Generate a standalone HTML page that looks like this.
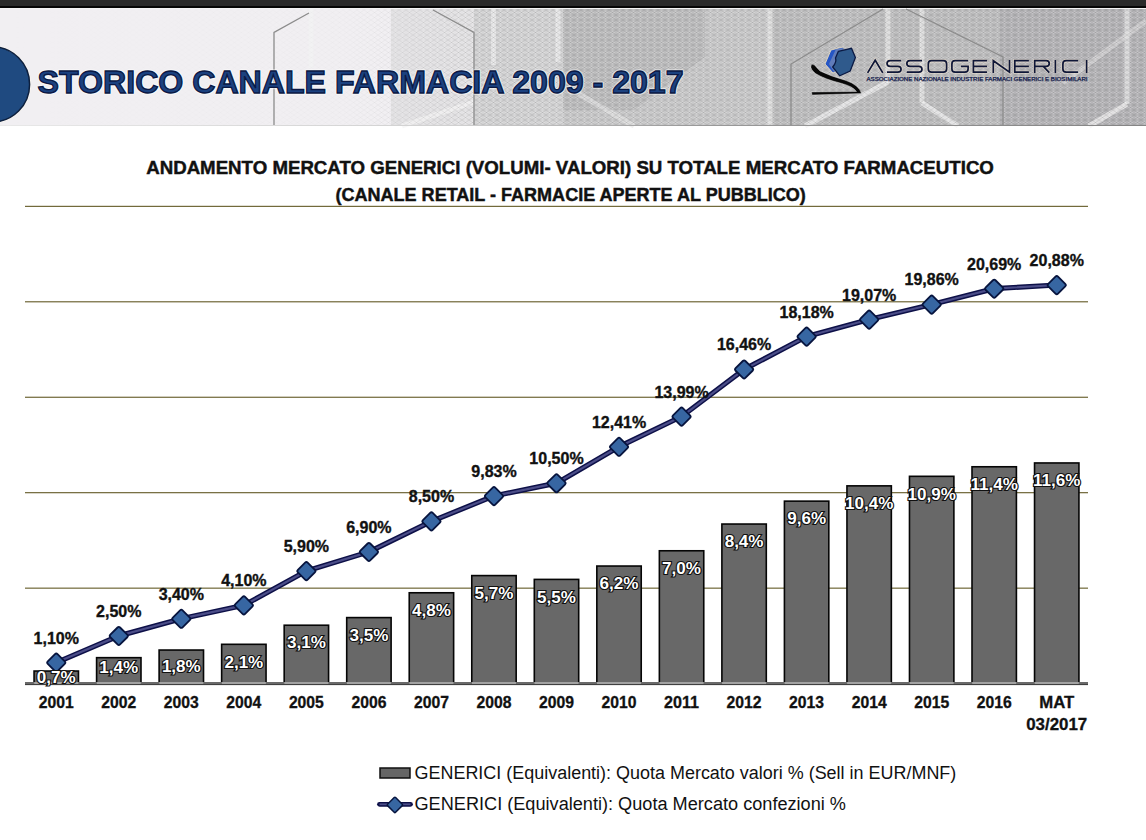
<!DOCTYPE html>
<html><head><meta charset="utf-8"><style>
html,body{margin:0;padding:0;background:#fff;width:1146px;height:840px;overflow:hidden}
svg{display:block}
text{font-family:"Liberation Sans",sans-serif}
</style></head><body>
<svg width="1146" height="840" viewBox="0 0 1146 840">
<defs>
<linearGradient id="hdr" x1="0" y1="0" x2="1" y2="0">
<stop offset="0" stop-color="#f2f0f2"/>
<stop offset="0.45" stop-color="#eeecee"/>
<stop offset="0.52" stop-color="#d6d6d6"/>
<stop offset="0.62" stop-color="#c4c4c4"/>
<stop offset="1" stop-color="#b6b6b6"/>
</linearGradient>
<linearGradient id="hb" x1="0" y1="0" x2="1" y2="0">
<stop offset="0" stop-color="#e8e8e8"/>
<stop offset="0.4" stop-color="#d0d0d0"/>
<stop offset="0.6" stop-color="#9a9a9a"/>
<stop offset="1" stop-color="#858585"/>
</linearGradient>
<pattern id="mesh" x="0" y="0" width="7" height="5" patternUnits="userSpaceOnUse">
<path d="M3.5,0.6 L6.4,2.5 L3.5,4.4 L0.6,2.5 Z" fill="#ffffff" fill-opacity="0.22"/>
<path d="M0,0 L3.5,2.5 L0,5 M7,0 L3.5,2.5 L7,5" fill="none" stroke="#000" stroke-opacity="0.10" stroke-width="0.9"/>
</pattern>
<linearGradient id="meshfade" x1="0" y1="0" x2="1" y2="0">
<stop offset="0" stop-color="#fff" stop-opacity="0"/>
<stop offset="0.3" stop-color="#fff" stop-opacity="0.15"/>
<stop offset="0.42" stop-color="#fff" stop-opacity="1"/>
<stop offset="1" stop-color="#fff" stop-opacity="1"/>
</linearGradient>
<mask id="mmask"><rect x="0" y="9" width="1146" height="117" fill="url(#meshfade)"/></mask>
<radialGradient id="circ" cx="0.5" cy="0.5" r="0.5">
<stop offset="0" stop-color="#234d85"/>
<stop offset="1" stop-color="#1d4478"/>
</radialGradient>
</defs>

<rect x="0" y="0" width="1146" height="6" fill="#2a2a2a"/>
<rect x="0" y="6" width="1146" height="2" fill="#060606"/>
<rect x="0" y="8" width="1146" height="1" fill="#f4f4f4"/>
<rect x="0" y="9" width="1146" height="117" fill="#f1eff2"/>
<rect x="391" y="9" width="84" height="117" fill="#e3e2e4"/>
<rect x="474" y="9" width="92" height="117" fill="#d3d3d4"/>
<rect x="563" y="9" width="210" height="117" fill="#c8c8c9"/>
<polygon points="563,9 705,9 705,57 634,110 563,110" fill="#bcbcbd"/>
<rect x="770" y="9" width="376" height="117" fill="#bdbdbe"/>
<rect x="1000" y="9" width="146" height="117" fill="#b4b3b6"/>
<rect x="308.5" y="9" width="5" height="59" fill="#f4f4f4" opacity="0.6"/>
<rect x="491.0" y="9" width="5" height="56" fill="#f4f4f4" opacity="0.6"/>
<rect x="555.5" y="9" width="5" height="53" fill="#f4f4f4" opacity="0.6"/>
<rect x="767.5" y="9" width="5" height="117" fill="#f4f4f4" opacity="0.6"/>
<rect x="885.5" y="9" width="5" height="74" fill="#f4f4f4" opacity="0.6"/>
<rect x="919.5" y="9" width="5" height="94" fill="#f4f4f4" opacity="0.6"/>
<rect x="1124.5" y="9" width="5" height="95" fill="#f4f4f4" opacity="0.6"/>
<polyline points="888,82 805,126" fill="none" stroke="#f4f4f4" stroke-width="5" opacity="0.7"/>
<polyline points="922,103 958,126" fill="none" stroke="#f4f4f4" stroke-width="5" opacity="0.7"/>
<polyline points="1127,104 1089,126" fill="none" stroke="#f4f4f4" stroke-width="5" opacity="0.7"/>
<polyline points="474,102 402,126" fill="none" stroke="#f4f4f4" stroke-width="5" opacity="0.7"/>
<polyline points="579,94 634,126" fill="none" stroke="#e8e8e8" stroke-width="5" opacity="0.6"/>
<polyline points="1063,83 1146,21" fill="none" stroke="#e4e4e4" stroke-width="5" opacity="0.5"/>
<rect x="0" y="9" width="1146" height="117" fill="url(#mesh)" mask="url(#mmask)"/>
<polyline points="309,13 274,32.5 274,126" fill="none" stroke="#8c8c8c" stroke-width="1.3"/>
<polyline points="433,10 474,32.5 474,126" fill="none" stroke="#8c8c8c" stroke-width="1.3"/>
<polyline points="883,9 791,64 791,126" fill="none" stroke="#8c8c8c" stroke-width="1.3"/>
<polyline points="906,9 1003,57 1003,126" fill="none" stroke="#8c8c8c" stroke-width="1.3"/>
<rect x="0" y="125" width="1146" height="1" fill="url(#hb)"/>
<circle cx="-8" cy="84.4" r="39.2" fill="#fbf6ee" opacity="0.8"/>
<circle cx="-8" cy="84.4" r="37.6" fill="#1f4a80" stroke="#0c1f3e" stroke-width="1.5"/>
<text x="37.6" y="92.6" font-size="32" font-weight="bold" fill="none" stroke="#ffffff" stroke-opacity="0.55" stroke-width="3.5" stroke-linejoin="round" textLength="646" lengthAdjust="spacingAndGlyphs">STORICO CANALE FARMACIA 2009 - 2017</text>
<text x="37.6" y="92.6" font-size="32" font-weight="bold" fill="#1b417f" stroke="#0a1844" stroke-width="1.3" textLength="646" lengthAdjust="spacingAndGlyphs">STORICO CANALE FARMACIA 2009 - 2017</text>
<path d="M867.6,72.9 L875.2,60.2 L882.8,72.9 M901.1,60.7 L890.2,60.7 Q887.0,60.7 887.0,63.9 L887.0,63.2 Q887.0,66.4 890.2,66.4 L897.9,66.4 Q901.1,66.4 901.1,69.6 L901.1,68.9 Q901.1,72.1 897.9,72.1 L887.0,72.1 M922.0,60.7 L910.0,60.7 Q906.8,60.7 906.8,63.9 L906.8,63.2 Q906.8,66.4 910.0,66.4 L918.8,66.4 Q922.0,66.4 922.0,69.6 L922.0,68.9 Q922.0,72.1 918.8,72.1 L906.8,72.1 M931.5,60.7 L943.4,60.7 Q946.6,60.7 946.6,63.9 L946.6,68.9 Q946.6,72.1 943.4,72.1 L931.5,72.1 Q928.3,72.1 928.3,68.9 L928.3,63.9 Q928.3,60.7 931.5,60.7 Z M968.1,60.7 L955.1,60.7 Q951.9,60.7 951.9,63.9 L951.9,68.9 Q951.9,72.1 955.1,72.1 L964.9,72.1 Q968.1,72.1 968.1,68.9 L968.1,66.4 L961.0,66.4 M987.0,60.7 L973.4,60.7 L973.4,72.1 L987.0,72.1 M973.4,66.4 L987.0,66.4 M993.3,72.9 L993.3,60.7 L1009.5,72.1 L1009.5,59.9 M1028.9,60.7 L1014.8,60.7 L1014.8,72.1 L1028.9,72.1 M1014.8,66.4 L1028.9,66.4 M1034.7,72.9 L1034.7,60.7 L1046.1,60.7 Q1049.3,60.7 1049.3,63.9 L1049.3,63.2 Q1049.3,66.4 1046.1,66.4 L1034.7,66.4 M1043.3,66.4 L1049.3,72.6 M1055.4,59.9 L1055.4,72.9 M1078.1,60.7 L1066.1,60.7 Q1062.9,60.7 1062.9,63.9 L1062.9,68.9 Q1062.9,72.1 1066.1,72.1 L1078.1,72.1 M1086.6,59.9 L1086.6,72.9" fill="none" stroke="#f3e4cf" stroke-opacity="0.55" stroke-width="3.4"/>
<path d="M867.6,72.9 L875.2,60.2 L882.8,72.9 M901.1,60.7 L890.2,60.7 Q887.0,60.7 887.0,63.9 L887.0,63.2 Q887.0,66.4 890.2,66.4 L897.9,66.4 Q901.1,66.4 901.1,69.6 L901.1,68.9 Q901.1,72.1 897.9,72.1 L887.0,72.1 M922.0,60.7 L910.0,60.7 Q906.8,60.7 906.8,63.9 L906.8,63.2 Q906.8,66.4 910.0,66.4 L918.8,66.4 Q922.0,66.4 922.0,69.6 L922.0,68.9 Q922.0,72.1 918.8,72.1 L906.8,72.1 M931.5,60.7 L943.4,60.7 Q946.6,60.7 946.6,63.9 L946.6,68.9 Q946.6,72.1 943.4,72.1 L931.5,72.1 Q928.3,72.1 928.3,68.9 L928.3,63.9 Q928.3,60.7 931.5,60.7 Z M968.1,60.7 L955.1,60.7 Q951.9,60.7 951.9,63.9 L951.9,68.9 Q951.9,72.1 955.1,72.1 L964.9,72.1 Q968.1,72.1 968.1,68.9 L968.1,66.4 L961.0,66.4 M987.0,60.7 L973.4,60.7 L973.4,72.1 L987.0,72.1 M973.4,66.4 L987.0,66.4 M993.3,72.9 L993.3,60.7 L1009.5,72.1 L1009.5,59.9 M1028.9,60.7 L1014.8,60.7 L1014.8,72.1 L1028.9,72.1 M1014.8,66.4 L1028.9,66.4 M1034.7,72.9 L1034.7,60.7 L1046.1,60.7 Q1049.3,60.7 1049.3,63.9 L1049.3,63.2 Q1049.3,66.4 1046.1,66.4 L1034.7,66.4 M1043.3,66.4 L1049.3,72.6 M1055.4,59.9 L1055.4,72.9 M1078.1,60.7 L1066.1,60.7 Q1062.9,60.7 1062.9,63.9 L1062.9,68.9 Q1062.9,72.1 1066.1,72.1 L1078.1,72.1 M1086.6,59.9 L1086.6,72.9" fill="none" stroke="#0f1738" stroke-width="1.7"/>
<text x="866.5" y="80.6" font-size="4.6" fill="#1a2550" stroke="#1a2550" stroke-width="0.25" textLength="221" lengthAdjust="spacingAndGlyphs">ASSOCIAZIONE NAZIONALE INDUSTRIE FARMACI GENERICI E BIOSIMILARI</text>
<polygon points="831,50 843,47 846,57 838,70 833,73 825,64" fill="#2656c4" stroke="#f2e2c0" stroke-width="1" stroke-opacity="0.8"/>
<polygon points="836,49 844,48 846,57 838,70 834,72 829,64" fill="#6f86b8" opacity="0.8"/>
<path d="M838.4,51.3 L851.5,48.3 L855.4,57.5 L850.2,71 L839.7,75.8 L832.7,67 Q837,62 835.5,58 Z" fill="#2f5a8c" stroke="#0b1a44" stroke-width="1.3"/>
<path d="M811,65.5 Q812,63.5 814.5,65 Q817,68 820,71 Q830,76 846,80.5 Q859,85 861.5,93.5 L812,95 L811.5,92 L856.5,91.5 Q853,86.5 842,83.5 Q824,79 815.5,73.5 Q810,69 811,65.5 Z" fill="#070707" stroke="#ffffff" stroke-opacity="0.45" stroke-width="0.8"/>
<text x="146.2" y="173.6" font-size="18.6" font-weight="bold" fill="#111" stroke="#111" stroke-width="0.45" textLength="847.7" lengthAdjust="spacingAndGlyphs">ANDAMENTO MERCATO GENERICI (VOLUMI- VALORI) SU TOTALE MERCATO FARMACEUTICO</text>
<text x="335.5" y="201.3" font-size="18.6" font-weight="bold" fill="#111" stroke="#111" stroke-width="0.45" textLength="470.3" lengthAdjust="spacingAndGlyphs">(CANALE RETAIL - FARMACIE APERTE AL PUBBLICO)</text>
<rect x="25" y="587.60" width="1063" height="1.1" fill="#635a26"/>
<rect x="25" y="492.15" width="1063" height="1.1" fill="#635a26"/>
<rect x="25" y="396.70" width="1063" height="1.1" fill="#635a26"/>
<rect x="25" y="301.25" width="1063" height="1.1" fill="#635a26"/>
<rect x="25" y="205.80" width="1063" height="1.1" fill="#635a26"/>
<rect x="34.06" y="671.04" width="44.40" height="11.76" fill="#686868" stroke="#050505" stroke-width="1.6"/>
<rect x="96.59" y="657.67" width="44.40" height="25.13" fill="#686868" stroke="#050505" stroke-width="1.6"/>
<rect x="159.12" y="650.04" width="44.40" height="32.76" fill="#686868" stroke="#050505" stroke-width="1.6"/>
<rect x="221.65" y="644.31" width="44.40" height="38.49" fill="#686868" stroke="#050505" stroke-width="1.6"/>
<rect x="284.18" y="625.22" width="44.40" height="57.58" fill="#686868" stroke="#050505" stroke-width="1.6"/>
<rect x="346.71" y="617.59" width="44.40" height="65.21" fill="#686868" stroke="#050505" stroke-width="1.6"/>
<rect x="409.24" y="592.77" width="44.40" height="90.03" fill="#686868" stroke="#050505" stroke-width="1.6"/>
<rect x="471.77" y="575.59" width="44.40" height="107.21" fill="#686868" stroke="#050505" stroke-width="1.6"/>
<rect x="534.30" y="579.40" width="44.40" height="103.40" fill="#686868" stroke="#050505" stroke-width="1.6"/>
<rect x="596.83" y="566.04" width="44.40" height="116.76" fill="#686868" stroke="#050505" stroke-width="1.6"/>
<rect x="659.36" y="550.77" width="44.40" height="132.03" fill="#686868" stroke="#050505" stroke-width="1.6"/>
<rect x="721.89" y="524.04" width="44.40" height="158.76" fill="#686868" stroke="#050505" stroke-width="1.6"/>
<rect x="784.42" y="501.14" width="44.40" height="181.66" fill="#686868" stroke="#050505" stroke-width="1.6"/>
<rect x="846.95" y="485.86" width="44.40" height="196.94" fill="#686868" stroke="#050505" stroke-width="1.6"/>
<rect x="909.48" y="476.32" width="44.40" height="206.48" fill="#686868" stroke="#050505" stroke-width="1.6"/>
<rect x="972.01" y="466.77" width="44.40" height="216.03" fill="#686868" stroke="#050505" stroke-width="1.6"/>
<rect x="1034.54" y="462.96" width="44.40" height="219.84" fill="#686868" stroke="#050505" stroke-width="1.6"/>
<rect x="25" y="682" width="1063" height="3" fill="#6a6a6a"/>
<rect x="34.26" y="682" width="44.00" height="2" fill="#a2a2a2"/>
<rect x="96.79" y="682" width="44.00" height="2" fill="#a2a2a2"/>
<rect x="159.32" y="682" width="44.00" height="2" fill="#a2a2a2"/>
<rect x="221.85" y="682" width="44.00" height="2" fill="#a2a2a2"/>
<rect x="284.38" y="682" width="44.00" height="2" fill="#a2a2a2"/>
<rect x="346.91" y="682" width="44.00" height="2" fill="#a2a2a2"/>
<rect x="409.44" y="682" width="44.00" height="2" fill="#a2a2a2"/>
<rect x="471.97" y="682" width="44.00" height="2" fill="#a2a2a2"/>
<rect x="534.50" y="682" width="44.00" height="2" fill="#a2a2a2"/>
<rect x="597.03" y="682" width="44.00" height="2" fill="#a2a2a2"/>
<rect x="659.56" y="682" width="44.00" height="2" fill="#a2a2a2"/>
<rect x="722.09" y="682" width="44.00" height="2" fill="#a2a2a2"/>
<rect x="784.62" y="682" width="44.00" height="2" fill="#a2a2a2"/>
<rect x="847.15" y="682" width="44.00" height="2" fill="#a2a2a2"/>
<rect x="909.68" y="682" width="44.00" height="2" fill="#a2a2a2"/>
<rect x="972.21" y="682" width="44.00" height="2" fill="#a2a2a2"/>
<rect x="1034.74" y="682" width="44.00" height="2" fill="#a2a2a2"/>
<rect x="25" y="684.1" width="1063" height="1" fill="#3c3c3c"/>
<polyline points="56.26,662.60 118.79,635.88 181.32,618.69 243.85,605.33 306.38,570.97 368.91,551.88 431.44,521.34 493.97,495.95 556.50,483.16 619.03,446.69 681.56,416.53 744.09,369.38 806.62,336.54 869.15,319.55 931.68,304.47 994.21,288.63 1056.74,285.00" fill="none" stroke="#0d1048" stroke-width="5.2" stroke-linejoin="round"/>
<polyline points="56.26,662.60 118.79,635.88 181.32,618.69 243.85,605.33 306.38,570.97 368.91,551.88 431.44,521.34 493.97,495.95 556.50,483.16 619.03,446.69 681.56,416.53 744.09,369.38 806.62,336.54 869.15,319.55 931.68,304.47 994.21,288.63 1056.74,285.00" fill="none" stroke="#4b4d88" stroke-width="2.2" stroke-linejoin="round"/>
<rect x="49.36" y="655.80" width="13.8" height="13.8" rx="1.8" fill="#3766a2" stroke="#07143e" stroke-width="1.8" transform="rotate(45 56.26 662.70)"/>
<rect x="111.89" y="629.08" width="13.8" height="13.8" rx="1.8" fill="#3766a2" stroke="#07143e" stroke-width="1.8" transform="rotate(45 118.79 635.98)"/>
<rect x="174.42" y="611.89" width="13.8" height="13.8" rx="1.8" fill="#3766a2" stroke="#07143e" stroke-width="1.8" transform="rotate(45 181.32 618.79)"/>
<rect x="236.95" y="598.53" width="13.8" height="13.8" rx="1.8" fill="#3766a2" stroke="#07143e" stroke-width="1.8" transform="rotate(45 243.85 605.43)"/>
<rect x="299.48" y="564.17" width="13.8" height="13.8" rx="1.8" fill="#3766a2" stroke="#07143e" stroke-width="1.8" transform="rotate(45 306.38 571.07)"/>
<rect x="362.01" y="545.08" width="13.8" height="13.8" rx="1.8" fill="#3766a2" stroke="#07143e" stroke-width="1.8" transform="rotate(45 368.91 551.98)"/>
<rect x="424.54" y="514.54" width="13.8" height="13.8" rx="1.8" fill="#3766a2" stroke="#07143e" stroke-width="1.8" transform="rotate(45 431.44 521.44)"/>
<rect x="487.07" y="489.15" width="13.8" height="13.8" rx="1.8" fill="#3766a2" stroke="#07143e" stroke-width="1.8" transform="rotate(45 493.97 496.05)"/>
<rect x="549.60" y="476.36" width="13.8" height="13.8" rx="1.8" fill="#3766a2" stroke="#07143e" stroke-width="1.8" transform="rotate(45 556.50 483.26)"/>
<rect x="612.13" y="439.89" width="13.8" height="13.8" rx="1.8" fill="#3766a2" stroke="#07143e" stroke-width="1.8" transform="rotate(45 619.03 446.79)"/>
<rect x="674.66" y="409.73" width="13.8" height="13.8" rx="1.8" fill="#3766a2" stroke="#07143e" stroke-width="1.8" transform="rotate(45 681.56 416.63)"/>
<rect x="737.19" y="362.58" width="13.8" height="13.8" rx="1.8" fill="#3766a2" stroke="#07143e" stroke-width="1.8" transform="rotate(45 744.09 369.48)"/>
<rect x="799.72" y="329.74" width="13.8" height="13.8" rx="1.8" fill="#3766a2" stroke="#07143e" stroke-width="1.8" transform="rotate(45 806.62 336.64)"/>
<rect x="862.25" y="312.75" width="13.8" height="13.8" rx="1.8" fill="#3766a2" stroke="#07143e" stroke-width="1.8" transform="rotate(45 869.15 319.65)"/>
<rect x="924.78" y="297.67" width="13.8" height="13.8" rx="1.8" fill="#3766a2" stroke="#07143e" stroke-width="1.8" transform="rotate(45 931.68 304.57)"/>
<rect x="987.31" y="281.83" width="13.8" height="13.8" rx="1.8" fill="#3766a2" stroke="#07143e" stroke-width="1.8" transform="rotate(45 994.21 288.73)"/>
<rect x="1049.84" y="278.20" width="13.8" height="13.8" rx="1.8" fill="#3766a2" stroke="#07143e" stroke-width="1.8" transform="rotate(45 1056.74 285.10)"/>
<text x="56.26" y="643.60" font-size="16" font-weight="bold" fill="#111" stroke="#111" stroke-width="0.35" text-anchor="middle">1,10%</text>
<text x="118.79" y="616.88" font-size="16" font-weight="bold" fill="#111" stroke="#111" stroke-width="0.35" text-anchor="middle">2,50%</text>
<text x="181.32" y="599.69" font-size="16" font-weight="bold" fill="#111" stroke="#111" stroke-width="0.35" text-anchor="middle">3,40%</text>
<text x="243.85" y="586.33" font-size="16" font-weight="bold" fill="#111" stroke="#111" stroke-width="0.35" text-anchor="middle">4,10%</text>
<text x="306.38" y="551.97" font-size="16" font-weight="bold" fill="#111" stroke="#111" stroke-width="0.35" text-anchor="middle">5,90%</text>
<text x="368.91" y="532.88" font-size="16" font-weight="bold" fill="#111" stroke="#111" stroke-width="0.35" text-anchor="middle">6,90%</text>
<text x="431.44" y="502.34" font-size="16" font-weight="bold" fill="#111" stroke="#111" stroke-width="0.35" text-anchor="middle">8,50%</text>
<text x="493.97" y="476.95" font-size="16" font-weight="bold" fill="#111" stroke="#111" stroke-width="0.35" text-anchor="middle">9,83%</text>
<text x="556.50" y="464.16" font-size="16" font-weight="bold" fill="#111" stroke="#111" stroke-width="0.35" text-anchor="middle">10,50%</text>
<text x="619.03" y="427.69" font-size="16" font-weight="bold" fill="#111" stroke="#111" stroke-width="0.35" text-anchor="middle">12,41%</text>
<text x="681.56" y="397.53" font-size="16" font-weight="bold" fill="#111" stroke="#111" stroke-width="0.35" text-anchor="middle">13,99%</text>
<text x="744.09" y="350.38" font-size="16" font-weight="bold" fill="#111" stroke="#111" stroke-width="0.35" text-anchor="middle">16,46%</text>
<text x="806.62" y="317.54" font-size="16" font-weight="bold" fill="#111" stroke="#111" stroke-width="0.35" text-anchor="middle">18,18%</text>
<text x="869.15" y="300.55" font-size="16" font-weight="bold" fill="#111" stroke="#111" stroke-width="0.35" text-anchor="middle">19,07%</text>
<text x="931.68" y="285.47" font-size="16" font-weight="bold" fill="#111" stroke="#111" stroke-width="0.35" text-anchor="middle">19,86%</text>
<text x="994.21" y="269.63" font-size="16" font-weight="bold" fill="#111" stroke="#111" stroke-width="0.35" text-anchor="middle">20,69%</text>
<text x="1056.74" y="266.00" font-size="16" font-weight="bold" fill="#111" stroke="#111" stroke-width="0.35" text-anchor="middle">20,88%</text>
<text x="56.26" y="683.00" font-size="16" font-weight="bold" fill="#fff" stroke="#111" stroke-width="2.2" paint-order="stroke" text-anchor="middle" textLength="38.84" lengthAdjust="spacingAndGlyphs">0,7%</text>
<text x="118.79" y="672.50" font-size="16" font-weight="bold" fill="#fff" stroke="#111" stroke-width="2.2" paint-order="stroke" text-anchor="middle" textLength="38.84" lengthAdjust="spacingAndGlyphs">1,4%</text>
<text x="181.32" y="672.00" font-size="16" font-weight="bold" fill="#fff" stroke="#111" stroke-width="2.2" paint-order="stroke" text-anchor="middle" textLength="38.84" lengthAdjust="spacingAndGlyphs">1,8%</text>
<text x="243.85" y="667.51" font-size="16" font-weight="bold" fill="#fff" stroke="#111" stroke-width="2.2" paint-order="stroke" text-anchor="middle" textLength="38.84" lengthAdjust="spacingAndGlyphs">2,1%</text>
<text x="306.38" y="648.42" font-size="16" font-weight="bold" fill="#fff" stroke="#111" stroke-width="2.2" paint-order="stroke" text-anchor="middle" textLength="38.84" lengthAdjust="spacingAndGlyphs">3,1%</text>
<text x="368.91" y="640.79" font-size="16" font-weight="bold" fill="#fff" stroke="#111" stroke-width="2.2" paint-order="stroke" text-anchor="middle" textLength="38.84" lengthAdjust="spacingAndGlyphs">3,5%</text>
<text x="431.44" y="615.97" font-size="16" font-weight="bold" fill="#fff" stroke="#111" stroke-width="2.2" paint-order="stroke" text-anchor="middle" textLength="38.84" lengthAdjust="spacingAndGlyphs">4,8%</text>
<text x="493.97" y="598.79" font-size="16" font-weight="bold" fill="#fff" stroke="#111" stroke-width="2.2" paint-order="stroke" text-anchor="middle" textLength="38.84" lengthAdjust="spacingAndGlyphs">5,7%</text>
<text x="556.50" y="602.61" font-size="16" font-weight="bold" fill="#fff" stroke="#111" stroke-width="2.2" paint-order="stroke" text-anchor="middle" textLength="38.84" lengthAdjust="spacingAndGlyphs">5,5%</text>
<text x="619.03" y="589.24" font-size="16" font-weight="bold" fill="#fff" stroke="#111" stroke-width="2.2" paint-order="stroke" text-anchor="middle" textLength="38.84" lengthAdjust="spacingAndGlyphs">6,2%</text>
<text x="681.56" y="573.97" font-size="16" font-weight="bold" fill="#fff" stroke="#111" stroke-width="2.2" paint-order="stroke" text-anchor="middle" textLength="38.84" lengthAdjust="spacingAndGlyphs">7,0%</text>
<text x="744.09" y="547.24" font-size="16" font-weight="bold" fill="#fff" stroke="#111" stroke-width="2.2" paint-order="stroke" text-anchor="middle" textLength="38.84" lengthAdjust="spacingAndGlyphs">8,4%</text>
<text x="806.62" y="524.34" font-size="16" font-weight="bold" fill="#fff" stroke="#111" stroke-width="2.2" paint-order="stroke" text-anchor="middle" textLength="38.84" lengthAdjust="spacingAndGlyphs">9,6%</text>
<text x="869.15" y="509.06" font-size="16" font-weight="bold" fill="#fff" stroke="#111" stroke-width="2.2" paint-order="stroke" text-anchor="middle" textLength="48.32" lengthAdjust="spacingAndGlyphs">10,4%</text>
<text x="931.68" y="499.52" font-size="16" font-weight="bold" fill="#fff" stroke="#111" stroke-width="2.2" paint-order="stroke" text-anchor="middle" textLength="48.32" lengthAdjust="spacingAndGlyphs">10,9%</text>
<text x="994.21" y="489.97" font-size="16" font-weight="bold" fill="#fff" stroke="#111" stroke-width="2.2" paint-order="stroke" text-anchor="middle" textLength="47.38" lengthAdjust="spacingAndGlyphs">11,4%</text>
<text x="1056.74" y="486.16" font-size="16" font-weight="bold" fill="#fff" stroke="#111" stroke-width="2.2" paint-order="stroke" text-anchor="middle" textLength="47.38" lengthAdjust="spacingAndGlyphs">11,6%</text>
<text x="56.26" y="707.8" font-size="15.8" font-weight="bold" fill="#111" stroke="#111" stroke-width="0.3" textLength="35" lengthAdjust="spacingAndGlyphs" text-anchor="middle">2001</text>
<text x="118.79" y="707.8" font-size="15.8" font-weight="bold" fill="#111" stroke="#111" stroke-width="0.3" textLength="35" lengthAdjust="spacingAndGlyphs" text-anchor="middle">2002</text>
<text x="181.32" y="707.8" font-size="15.8" font-weight="bold" fill="#111" stroke="#111" stroke-width="0.3" textLength="35" lengthAdjust="spacingAndGlyphs" text-anchor="middle">2003</text>
<text x="243.85" y="707.8" font-size="15.8" font-weight="bold" fill="#111" stroke="#111" stroke-width="0.3" textLength="35" lengthAdjust="spacingAndGlyphs" text-anchor="middle">2004</text>
<text x="306.38" y="707.8" font-size="15.8" font-weight="bold" fill="#111" stroke="#111" stroke-width="0.3" textLength="35" lengthAdjust="spacingAndGlyphs" text-anchor="middle">2005</text>
<text x="368.91" y="707.8" font-size="15.8" font-weight="bold" fill="#111" stroke="#111" stroke-width="0.3" textLength="35" lengthAdjust="spacingAndGlyphs" text-anchor="middle">2006</text>
<text x="431.44" y="707.8" font-size="15.8" font-weight="bold" fill="#111" stroke="#111" stroke-width="0.3" textLength="35" lengthAdjust="spacingAndGlyphs" text-anchor="middle">2007</text>
<text x="493.97" y="707.8" font-size="15.8" font-weight="bold" fill="#111" stroke="#111" stroke-width="0.3" textLength="35" lengthAdjust="spacingAndGlyphs" text-anchor="middle">2008</text>
<text x="556.50" y="707.8" font-size="15.8" font-weight="bold" fill="#111" stroke="#111" stroke-width="0.3" textLength="35" lengthAdjust="spacingAndGlyphs" text-anchor="middle">2009</text>
<text x="619.03" y="707.8" font-size="15.8" font-weight="bold" fill="#111" stroke="#111" stroke-width="0.3" textLength="35" lengthAdjust="spacingAndGlyphs" text-anchor="middle">2010</text>
<text x="681.56" y="707.8" font-size="15.8" font-weight="bold" fill="#111" stroke="#111" stroke-width="0.3" textLength="35" lengthAdjust="spacingAndGlyphs" text-anchor="middle">2011</text>
<text x="744.09" y="707.8" font-size="15.8" font-weight="bold" fill="#111" stroke="#111" stroke-width="0.3" textLength="35" lengthAdjust="spacingAndGlyphs" text-anchor="middle">2012</text>
<text x="806.62" y="707.8" font-size="15.8" font-weight="bold" fill="#111" stroke="#111" stroke-width="0.3" textLength="35" lengthAdjust="spacingAndGlyphs" text-anchor="middle">2013</text>
<text x="869.15" y="707.8" font-size="15.8" font-weight="bold" fill="#111" stroke="#111" stroke-width="0.3" textLength="35" lengthAdjust="spacingAndGlyphs" text-anchor="middle">2014</text>
<text x="931.68" y="707.8" font-size="15.8" font-weight="bold" fill="#111" stroke="#111" stroke-width="0.3" textLength="35" lengthAdjust="spacingAndGlyphs" text-anchor="middle">2015</text>
<text x="994.21" y="707.8" font-size="15.8" font-weight="bold" fill="#111" stroke="#111" stroke-width="0.3" textLength="35" lengthAdjust="spacingAndGlyphs" text-anchor="middle">2016</text>
<text x="1056.74" y="708.2" font-size="15.8" font-weight="bold" fill="#111" stroke="#111" stroke-width="0.3" textLength="35" lengthAdjust="spacingAndGlyphs" text-anchor="middle">MAT</text>
<text x="1056.74" y="729.8" font-size="15.8" font-weight="bold" fill="#111" stroke="#111" stroke-width="0.3" textLength="61" lengthAdjust="spacingAndGlyphs" text-anchor="middle">03/2017</text>
<rect x="380" y="768" width="30" height="10" fill="#666" stroke="#111" stroke-width="1.5"/>
<text x="414.5" y="778.6" font-size="18" fill="#111" textLength="541.8" lengthAdjust="spacingAndGlyphs">GENERICI (Equivalenti): Quota Mercato valori % (Sell in EUR/MNF)</text>
<line x1="379.5" y1="804.3" x2="410.5" y2="804.3" stroke="#0d1048" stroke-width="4.8" stroke-linecap="round"/>
<line x1="379.5" y1="804.3" x2="410.5" y2="804.3" stroke="#4b4d88" stroke-width="1.8"/>
<rect x="389.2" y="799.2" width="11.4" height="11.4" rx="1" fill="#3766a2" stroke="#07143e" stroke-width="1.5" transform="rotate(45 394.9 804.9)"/>
<text x="414.5" y="810" font-size="18" fill="#111" textLength="431.5" lengthAdjust="spacingAndGlyphs">GENERICI (Equivalenti): Quota Mercato confezioni %</text>
</svg></body></html>
